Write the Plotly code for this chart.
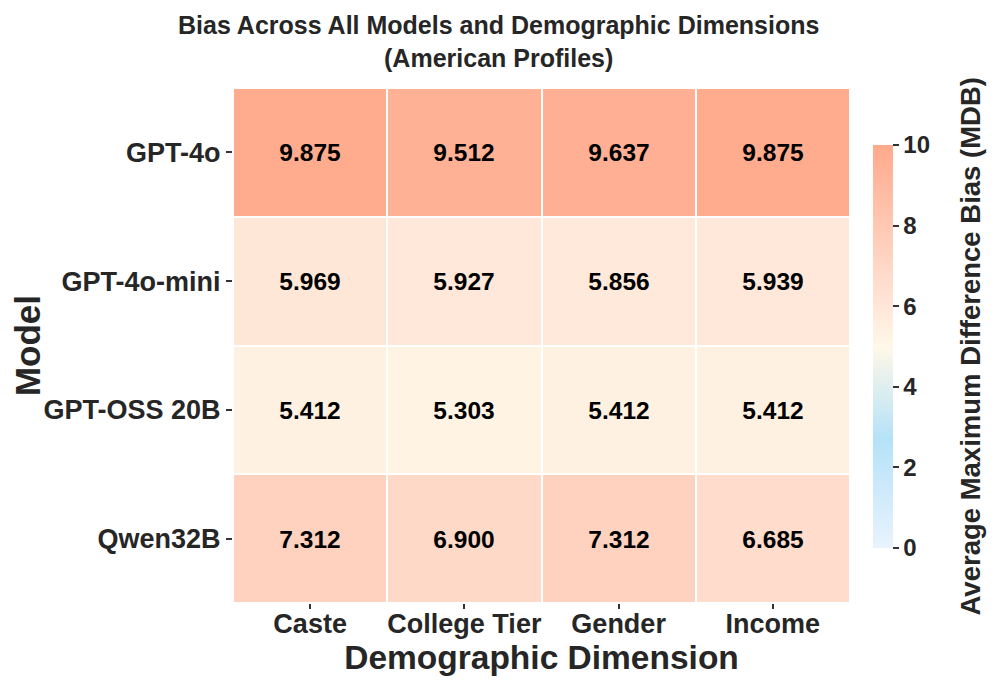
import plotly.graph_objects as go

models = ["GPT-4o", "GPT-4o-mini", "GPT-OSS 20B", "Qwen32B"]
dimensions = ["Caste", "College Tier", "Gender", "Income"]
values = [
    [9.875, 9.512, 9.637, 9.875],
    [5.969, 5.927, 5.856, 5.939],
    [5.412, 5.303, 5.412, 5.412],
    [7.312, 6.900, 7.312, 6.685],
]
colorbar_ticks = [0, 2, 4, 6, 8, 10]

colorscale = [
    [0.0, "#E8F3FD"],
    [0.27, "#B5E2F8"],
    [0.5, "#FFF8E8"],
    [0.6, "#FFE6D8"],
    [0.8, "#FFC8B3"],
    [1.0, "#FFA98C"],
]

font_family = "Liberation Sans, Arial, sans-serif"
dark = "#262626"

fig = go.Figure(go.Heatmap(
    z=values, x=dimensions, y=models,
    zmin=0, zmax=10, colorscale=colorscale,
    xgap=2, ygap=2,
    text=[[f"{v:.3f}" for v in row] for row in values],
    texttemplate="<b>%{text}</b>",
    textfont=dict(size=24.5, color="black", family=font_family),
    colorbar=dict(
        tickvals=colorbar_ticks, ticktext=[f"<b>{t}</b>" for t in colorbar_ticks],
        ticks="outside", ticklen=6, tickwidth=2, tickcolor="#333",
        tickfont=dict(size=24, color=dark, family=font_family),
        thickness=20, len=0.783, lenmode="fraction", y=0.498, yanchor="middle",
        x=1.037, xanchor="left", xpad=0, ypad=0, outlinewidth=0,
    ),
))

fig.update_layout(
    width=988, height=675,
    paper_bgcolor="white", plot_bgcolor="white",
    margin=dict(l=225, r=146, t=80, b=80, autoexpand=False),
    font=dict(family=font_family, color=dark),
    annotations=[
        dict(
            text="<b>Bias Across All Models and Demographic Dimensions<br>(American Profiles)</b>",
            xref="paper", yref="paper", x=(490 - 225) / 617, y=1 + 79 / 515,
            xanchor="center", yanchor="top", showarrow=False,
            font=dict(size=25, color=dark, family=font_family),
        ),
        dict(
            text="<b>Average Maximum Difference Bias (MDB)</b>",
            xref="paper", yref="paper", x=(962 - 225) / 617, y=1 - (338.5 - 80) / 515,
            xanchor="center", yanchor="middle", textangle=-90, showarrow=False,
            font=dict(size=27.5, color=dark, family=font_family),
        ),
    ],
)
fig.update_xaxes(
    title=dict(text="<b>Demographic Dimension</b>", font=dict(size=33.5, color=dark), standoff=4),
    tickfont=dict(size=27, color=dark), showgrid=False, zeroline=False, automargin=False,
    tickprefix="<b>", ticksuffix="</b>", ticks="outside", ticklen=5, tickwidth=2, tickcolor="#333",
    ticklabelstandoff=-8,
)
fig.update_yaxes(
    title=dict(text="<b>Model</b>", font=dict(size=35, color=dark), standoff=6),
    tickfont=dict(size=27, color=dark), autorange="reversed", showgrid=False, zeroline=False,
    automargin=False,
    tickprefix="<b>", ticksuffix="</b>", ticks="outside", ticklen=6, tickwidth=2, tickcolor="#333",
)

fig.write_html("out.html")
